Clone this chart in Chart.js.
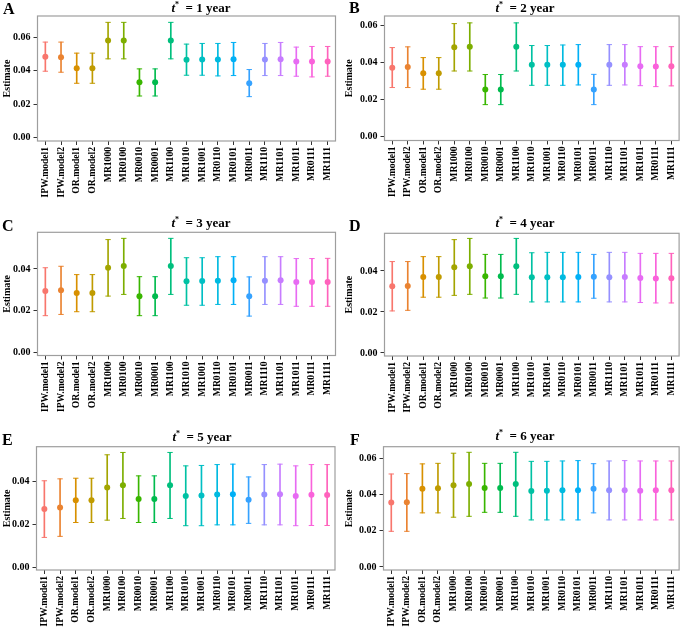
<!DOCTYPE html>
<html>
<head>
<meta charset="utf-8">
<script src="https://cdn.jsdelivr.net/npm/chart.js@4/dist/chart.umd.min.js"></script>
<style>
  html, body { margin: 0; padding: 0; background: #fff; }
  #wrap { position: relative; width: 685px; height: 633px; overflow: hidden; background: #fff; }
  .cv { position: absolute; }
  .letter { position: absolute; font-family: "Liberation Serif", serif; font-weight: bold; font-size: 16px; line-height: 16px; color: #000; white-space: nowrap; }
  .ttl { position: absolute; width: 120px; text-align: center; font-family: "Liberation Serif", serif; font-weight: bold; font-size: 13px; line-height: 13px; color: #000; white-space: nowrap; }
  .ttl sup { font-size: 8px; line-height: 0; vertical-align: 5px; }
</style>
</head>
<body>
<div id="wrap"></div>
<script>
// ---- data ----
const categories = ["IPW.model1","IPW.model2","OR.model1","OR.model2","MR1000","MR0100","MR0010","MR0001","MR1100","MR1010","MR1001","MR0110","MR0101","MR0011","MR1110","MR1101","MR1011","MR0111","MR1111"];

const est1 = [0.0482,0.0480,0.0414,0.0414,0.0580,0.0580,0.0330,0.0330,0.0580,0.0464,0.0466,0.0466,0.0468,0.0324,0.0466,0.0468,0.0454,0.0454,0.0454];
const hi1  = [0.0570,0.0570,0.0504,0.0504,0.0688,0.0688,0.0410,0.0410,0.0688,0.0558,0.0562,0.0562,0.0568,0.0406,0.0562,0.0568,0.0540,0.0544,0.0544];
const lo1  = [0.0396,0.0390,0.0324,0.0324,0.0470,0.0470,0.0248,0.0248,0.0470,0.0372,0.0372,0.0368,0.0370,0.0244,0.0370,0.0370,0.0366,0.0362,0.0366];

const est2 = [0.0371,0.0375,0.0341,0.0341,0.0481,0.0484,0.0253,0.0253,0.0484,0.0386,0.0386,0.0386,0.0387,0.0253,0.0386,0.0387,0.0378,0.0377,0.0378];
const hi2  = [0.0479,0.0483,0.0425,0.0425,0.0608,0.0612,0.0334,0.0334,0.0612,0.0490,0.0490,0.0493,0.0495,0.0335,0.0495,0.0495,0.0484,0.0484,0.0484];
const lo2  = [0.0264,0.0264,0.0255,0.0255,0.0353,0.0353,0.0172,0.0172,0.0353,0.0276,0.0276,0.0276,0.0278,0.0172,0.0276,0.0278,0.0274,0.0269,0.0273];

const est3 = [0.0294,0.0298,0.0285,0.0285,0.0406,0.0414,0.0269,0.0269,0.0414,0.0341,0.0342,0.0344,0.0346,0.0269,0.0344,0.0346,0.0338,0.0338,0.0338];
const hi3  = [0.0406,0.0413,0.0373,0.0373,0.0541,0.0547,0.0363,0.0363,0.0547,0.0454,0.0454,0.0459,0.0459,0.0362,0.0459,0.0459,0.0450,0.0450,0.0451];
const lo3  = [0.0176,0.0182,0.0195,0.0195,0.0270,0.0278,0.0176,0.0176,0.0278,0.0226,0.0226,0.0230,0.0230,0.0174,0.0230,0.0230,0.0221,0.0221,0.0221];

const est4 = [0.0325,0.0327,0.0371,0.0371,0.0418,0.0423,0.0374,0.0374,0.0423,0.0369,0.0369,0.0369,0.0371,0.0372,0.0369,0.0371,0.0366,0.0363,0.0364];
const hi4  = [0.0446,0.0446,0.0470,0.0470,0.0553,0.0559,0.0481,0.0481,0.0559,0.0489,0.0491,0.0491,0.0491,0.0481,0.0491,0.0491,0.0486,0.0486,0.0486];
const lo4  = [0.0205,0.0208,0.0272,0.0272,0.0281,0.0286,0.0268,0.0268,0.0286,0.0249,0.0249,0.0249,0.0249,0.0267,0.0249,0.0249,0.0246,0.0244,0.0244];

const est5 = [0.0273,0.0280,0.0313,0.0313,0.0373,0.0384,0.0319,0.0319,0.0384,0.0334,0.0336,0.0341,0.0342,0.0316,0.0341,0.0342,0.0334,0.0339,0.0338];
const hi5  = [0.0405,0.0414,0.0417,0.0417,0.0527,0.0538,0.0428,0.0428,0.0538,0.0475,0.0477,0.0481,0.0483,0.0423,0.0481,0.0483,0.0475,0.0481,0.0481];
const lo5  = [0.0139,0.0144,0.0209,0.0209,0.0220,0.0228,0.0209,0.0209,0.0228,0.0194,0.0194,0.0198,0.0198,0.0205,0.0198,0.0198,0.0194,0.0195,0.0195];

const est6 = [0.0356,0.0358,0.0433,0.0435,0.0452,0.0459,0.0437,0.0437,0.0459,0.0420,0.0422,0.0424,0.0424,0.0433,0.0424,0.0424,0.0422,0.0424,0.0424];
const hi6  = [0.0514,0.0516,0.0570,0.0573,0.0629,0.0634,0.0573,0.0573,0.0634,0.0584,0.0584,0.0586,0.0588,0.0571,0.0586,0.0588,0.0586,0.0586,0.0586];
const lo6  = [0.0197,0.0197,0.0299,0.0299,0.0275,0.0280,0.0302,0.0302,0.0280,0.0260,0.0260,0.0260,0.0260,0.0299,0.0260,0.0260,0.0260,0.0260,0.0260];

const ticksWide = [0, 0.02, 0.04, 0.06];
const ticksNarrow = [0, 0.02, 0.04];
const years = [1, 2, 3, 4, 5, 6];
const panelLetters = ["A","B","C","D","E","F"];

// ---- style ----
const palette = ["#F8766D","#EA8331","#D89000","#C09B00","#A3A500","#7CAE00","#39B600","#00BB4E","#00BF7D","#00C1A3","#00BFC4","#00BAE0","#00B0F6","#35A2FF","#9590FF","#C77CFF","#E76BF3","#FA62DB","#FF62BC"];
const SERIF = '"Liberation Serif", "Times New Roman", serif';

const panels = [
  {est: est1, lo: lo1, hi: hi1, ticks: ticksWide,   min: -0.0021, max: 0.0726, cx: 0,   cy: 0,   cw: 342, ch: 210, L: 37.5,  T: 16,    R: 335.5, B: 141,
   letter: {x: 3, y: 0.6}, title: {cx: 201, y: 1.2}},
  {est: est2, lo: lo2, hi: hi2, ticks: ticksWide,   min: -0.0021, max: 0.0649, cx: 342, cy: 0,   cw: 343, ch: 210, L: 384.5, T: 16,    R: 683,   B: 140.5,
   letter: {x: 349, y: 0}, title: {cx: 525, y: 1.2}},
  {est: est3, lo: lo3, hi: hi3, ticks: ticksNarrow, min: -0.0015, max: 0.0576, cx: 0,   cy: 210, cw: 342, ch: 210, L: 37.5,  T: 232.3, R: 335.5, B: 355.5,
   letter: {x: 2, y: 217.6}, title: {cx: 201, y: 216.2}},
  {est: est4, lo: lo4, hi: hi4, ticks: ticksNarrow, min: -0.0015, max: 0.0584, cx: 342, cy: 210, cw: 343, ch: 210, L: 384.5, T: 233.3, R: 683,   B: 356,
   letter: {x: 349, y: 217.6}, title: {cx: 525, y: 216.2}},
  {est: est5, lo: lo5, hi: hi5, ticks: ticksNarrow, min: -0.0014, max: 0.0565, cx: 0,   cy: 420, cw: 342, ch: 213, L: 36.5,  T: 446.7, R: 335,   B: 570,
   letter: {x: 2, y: 431.6}, title: {cx: 202, y: 430.2}},
  {est: est6, lo: lo6, hi: hi6, ticks: ticksWide,   min: -0.0017, max: 0.0665, cx: 342, cy: 420, cw: 343, ch: 213, L: 383.5, T: 446.7, R: 682.5, B: 570,
   letter: {x: 350, y: 431.6}, title: {cx: 525, y: 429.2}}
];

const boxPlugin = {
  id: 'panelBox',
  afterDatasetsDraw(chart) {
    const {ctx, chartArea: a} = chart;
    ctx.save();
    ctx.strokeStyle = '#9e9e9e';
    ctx.lineWidth = 1.2;
    ctx.strokeRect(a.left, a.top, a.right - a.left, a.bottom - a.top);
    ctx.restore();
  }
};

const wrap = document.getElementById('wrap');

panels.forEach((p, k) => {
  const canvas = document.createElement('canvas');
  canvas.className = 'cv';
  canvas.width = p.cw; canvas.height = p.ch;
  canvas.style.left = p.cx + 'px'; canvas.style.top = p.cy + 'px';
  canvas.style.width = p.cw + 'px'; canvas.style.height = p.ch + 'px';
  wrap.appendChild(canvas);

  const yW = p.L - p.cx;
  const xH = p.cy + p.ch - p.B;

  new Chart(canvas.getContext('2d'), {
    type: 'bar',
    data: {
      labels: categories,
      datasets: [
        { type: 'line', label: 'est', data: p.est, showLine: false, order: 0,
          pointStyle: 'circle', pointRadius: 3, pointBorderWidth: 0,
          pointBackgroundColor: palette, pointBorderColor: palette, borderColor: palette },
        { type: 'line', label: 'upper', data: p.hi, showLine: false, order: 1,
          pointStyle: 'line', pointRadius: 2.7, pointBorderWidth: 1,
          pointBorderColor: palette, pointBackgroundColor: palette, borderColor: palette },
        { type: 'line', label: 'lower', data: p.lo, showLine: false, order: 1,
          pointStyle: 'line', pointRadius: 2.7, pointBorderWidth: 1,
          pointBorderColor: palette, pointBackgroundColor: palette, borderColor: palette },
        { type: 'bar', label: 'ci', data: p.lo.map((l, i) => [l, p.hi[i]]), order: 2,
          barThickness: 1, backgroundColor: palette, borderWidth: 0 }
      ]
    },
    options: {
      responsive: false,
      devicePixelRatio: 1,
      animation: false,
      events: [],
      layout: { padding: { top: p.T - p.cy, right: p.cx + p.cw - p.R, left: 0, bottom: 0 } },
      plugins: { legend: { display: false }, tooltip: { enabled: false }, title: { display: false } },
      scales: {
        x: {
          type: 'category',
          offset: true,
          afterFit: s => { s.height = xH; },
          ticks: { autoSkip: false, maxRotation: 90, minRotation: 90, padding: 2,
                   color: '#000', font: { family: SERIF, weight: 'bold', size: 9.6 } },
          grid: { drawOnChartArea: false, offset: false, tickLength: 4, color: '#333', lineWidth: 1 },
          border: { display: false }
        },
        y: {
          min: p.min, max: p.max,
          afterBuildTicks: s => { s.ticks = p.ticks.map(v => ({ value: v })); },
          afterFit: s => { s.width = yW; },
          ticks: { padding: 3, color: '#000', font: { family: SERIF, weight: 'bold', size: 10 },
                   callback: v => Number(v).toFixed(2) },
          grid: { drawOnChartArea: false, tickLength: 4, color: '#333', lineWidth: 1 },
          border: { display: false },
          title: { display: true, text: 'Estimate', color: '#000', padding: { top: 1, bottom: 0 },
                   font: { family: SERIF, weight: 'bold', size: 10 } }
        }
      }
    },
    plugins: [boxPlugin]
  });

  const letter = document.createElement('div');
  letter.className = 'letter';
  letter.style.left = p.letter.x + 'px';
  letter.style.top = p.letter.y + 'px';
  letter.textContent = panelLetters[k];
  wrap.appendChild(letter);

  const ttl = document.createElement('div');
  ttl.className = 'ttl';
  ttl.style.left = (p.title.cx - 60) + 'px';
  ttl.style.top = p.title.y + 'px';
  ttl.innerHTML = '<i>t</i><sup>*</sup>&nbsp;&nbsp;= ' + years[k] + ' year';
  wrap.appendChild(ttl);
});
</script>
</body>
</html>
